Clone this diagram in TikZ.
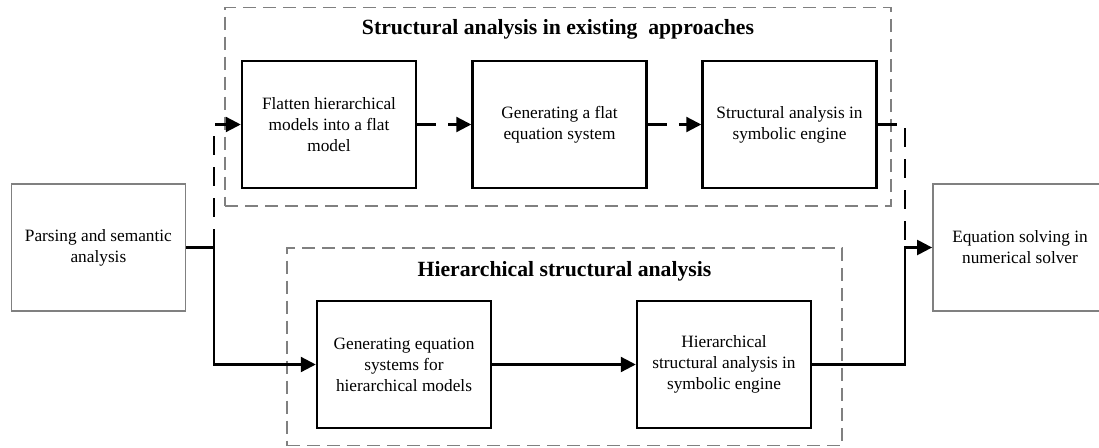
\documentclass[tikz,border=0pt]{standalone}
\usepackage{fontspec}
\setmainfont{Liberation Serif}
\usetikzlibrary{arrows.meta}
\begin{document}
\begin{tikzpicture}[x=1pt,y=-1pt,
  bodyfont/.style={font=\fontsize{17.3}{21}\selectfont},
  stepbox/.style={draw=black, line width=2.5pt, minimum width=174pt, minimum height=127pt, inner sep=0pt, align=center, bodyfont},
  endbox/.style={draw=black!50, line width=1.8pt, minimum width=174pt, minimum height=127pt, inner sep=0pt, align=center, bodyfont},
  groupbox/.style={draw=black!50, line width=1.6pt, dash pattern=on 13pt off 7pt, inner sep=0pt},
  grouptitle/.style={font=\fontsize{21.7}{26}\selectfont\bfseries, inner sep=0pt, anchor=base},
  conn/.style={line width=2.3pt, line join=miter},
  arr/.style={-{Triangle[length=15pt,width=15pt]}},
  dconn/.style={line width=2.3pt, line join=miter, dash pattern=on 19pt off 12pt},
]
\useasboundingbox (0,0) rectangle (1099,447);
\clip (0,0) rectangle (1099,447);
\fill[white] (0,0) rectangle (1099,447);

% group containers
\node[groupbox, minimum width=666pt, minimum height=198.7pt] (gtop) at (558,106.65) {};
\node[groupbox, minimum width=555pt, minimum height=197.5pt] (gbot) at (564.5,346.75) {};
\node[grouptitle] (ttop) at (558,34) {Structural analysis in existing\ \ approaches};
\node[grouptitle] (tbot) at (564.5,276) {Hierarchical structural analysis};

% end boxes
\node[endbox] (P) at (98.4,247.5) {Parsing and semantic\\analysis};
\node[endbox] (Q) at (1020,247.5) {Equation solving in\\numerical solver};

% top row
\node[stepbox] (A) at (329,124.5) {Flatten hierarchical\\models into a flat\\model};
\node[stepbox] (B) at (559.5,124.5) {Generating a flat\\equation system};
\node[stepbox] (C) at (789.5,124.5) {Structural analysis in\\symbolic engine};

% bottom row
\node[stepbox] (D) at (404,364.5) {Generating equation\\systems for\\hierarchical models};
\node[stepbox] (E) at (724,364.5) {Hierarchical\\structural analysis in\\symbolic engine};

% junctions
\coordinate (j1) at (214,247.5);
\coordinate (j2) at (905,247.5);

% connectors
\draw[conn] (P.east) -- (j1);
\draw[conn,arr] (j1) |- (D.west);
\draw[conn,arr] (D.east) -- (E.west);
\draw[dconn,arr] (j1) |- (A.west);
\draw[dconn,arr] (A.east) -- (B.west);
\draw[dconn,arr] (B.east) -- (C.west);
\draw[dconn] (C.east) -| (j2);
\draw[conn,arr] (E.east) -| (j2) -- (Q.west);
\end{tikzpicture}
\end{document}
